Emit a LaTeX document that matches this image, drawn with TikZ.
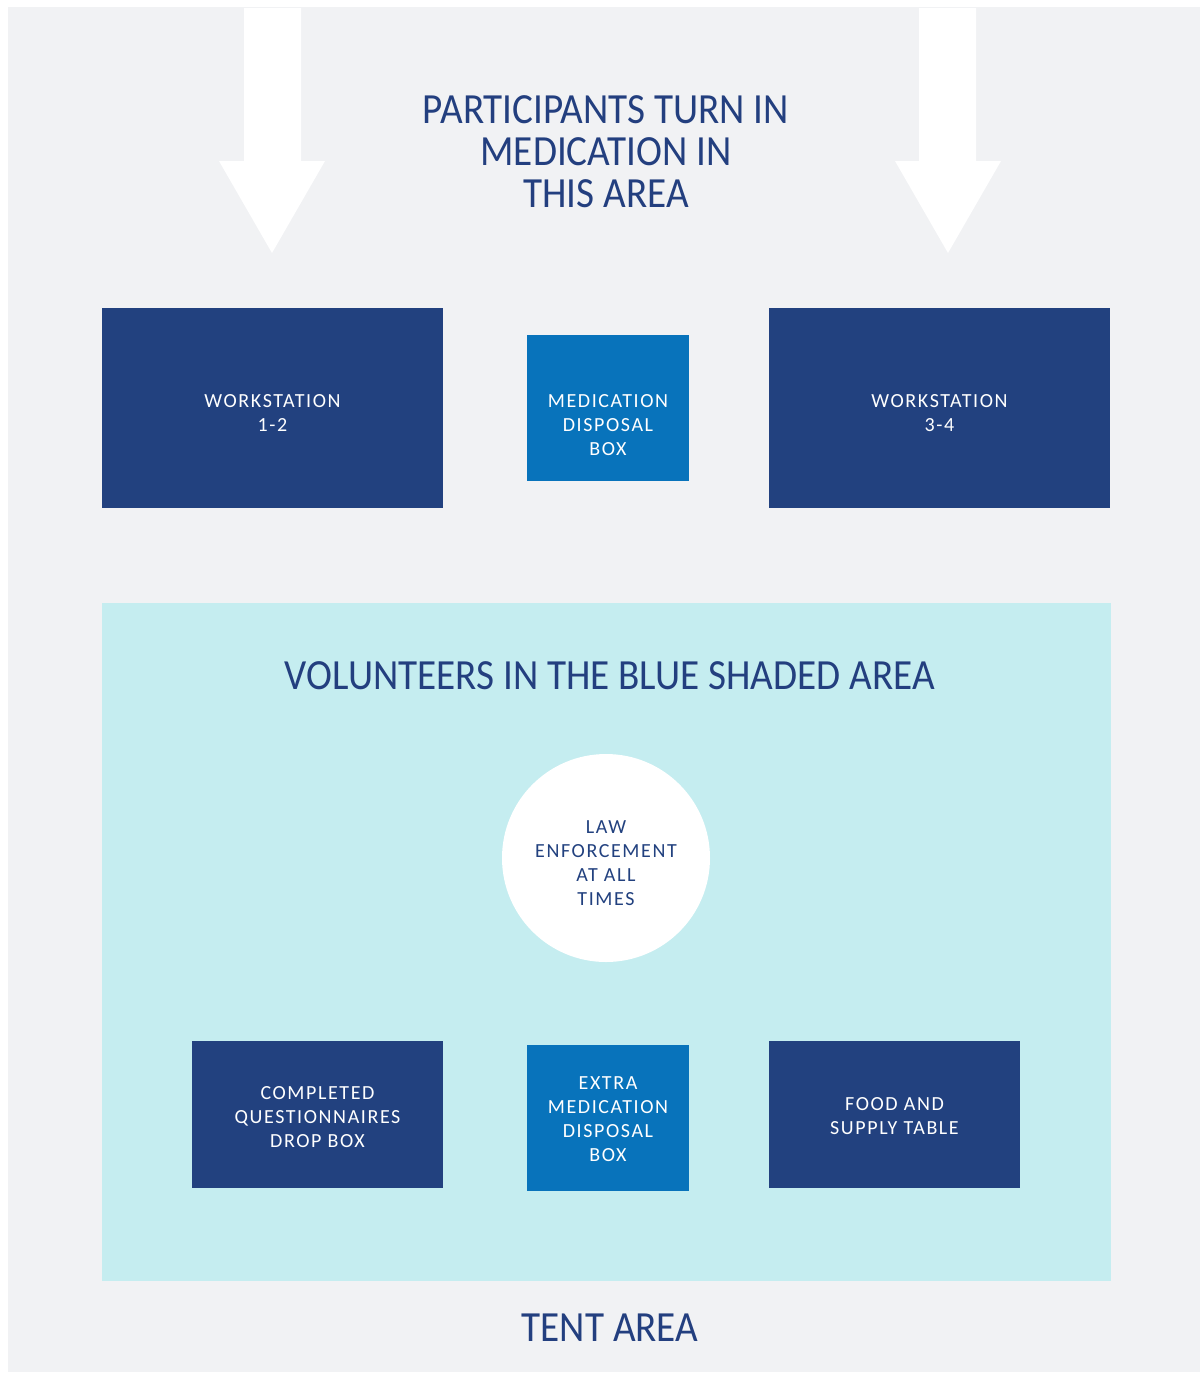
\documentclass[tikz,border=0pt]{standalone}
\usepackage{fontspec}
\setmainfont{Carlito}
\newfontfamily\boxfont[LetterSpace=8]{Carlito}
\newfontfamily\titlefont[FakeStretch=0.91]{Carlito}
\definecolor{bggray}{HTML}{F1F2F4}
\definecolor{navy}{HTML}{22417F}
\definecolor{midblue}{HTML}{0873BB}
\definecolor{lightcyan}{HTML}{C5EDF0}
\definecolor{titlecol}{HTML}{233F7F}
\begin{document}
\begin{tikzpicture}[x=1pt,y=-1pt,
  darkbox/.style={fill=navy,draw=none,inner sep=0pt},
  medbox/.style={fill=midblue,draw=none,inner sep=0pt},
  boxtext/.style={inner sep=0pt,text=white,align=center,font=\boxfont\fontsize{20}{24}\selectfont},
  circletext/.style={boxtext,text=navy},
  circlenode/.style={circle,fill=white,draw=none,inner sep=0pt,minimum size=208pt},
  titletext/.style={inner sep=0pt,text=titlecol,align=center,font=\titlefont\fontsize{43}{42}\selectfont},
  arrowshape/.style={fill=white,draw=none}]
\useasboundingbox (0,0) rectangle (1200,1374);
\fill[white] (0,0) rectangle (1200,1374);
\fill[bggray] (8,7) rectangle (1200,1372);
% arrows
\fill[arrowshape] (244,8) -- (301,8) -- (301,161) -- (325,161) -- (272,253) -- (219,161) -- (244,161) -- cycle;
\fill[arrowshape] (919,8) -- (976,8) -- (976,161) -- (1001,161) -- (948,253) -- (895,161) -- (919,161) -- cycle;
% header
\node[titletext] (header) at (606,152) {PARTICIPANTS TURN IN\\MEDICATION IN\\THIS AREA};
% top row
\node[darkbox,minimum width=341pt,minimum height=200pt] (ws12) at (272.5,408) {};
\node[boxtext] (ws12t) at (272.5,413) {WORKSTATION\\1-2};
\node[medbox,minimum width=162pt,minimum height=146pt] (medbox) at (608,408) {};
\node[boxtext] (medboxt) at (608,425) {MEDICATION\\DISPOSAL\\BOX};
\node[darkbox,minimum width=341pt,minimum height=200pt] (ws34) at (939.5,408) {};
\node[boxtext] (ws34t) at (939.5,413) {WORKSTATION\\3-4};
% volunteer area
\fill[lightcyan] (102,603) rectangle (1111,1281);
\node[titletext] (vol) at (610,676) {VOLUNTEERS IN THE BLUE SHADED AREA};
\node[circlenode] (law) at (606,858) {};
\node[circletext] (lawt) at (606,863) {LAW\\ENFORCEMENT\\AT ALL\\TIMES};
\node[darkbox,minimum width=251pt,minimum height=147pt] (cq) at (317.5,1114.5) {};
\node[boxtext] (cqt) at (317.5,1117.5) {COMPLETED\\QUESTIONNAIRES\\DROP BOX};
\node[medbox,minimum width=162pt,minimum height=146pt] (extra) at (608,1118) {};
\node[boxtext] (extrat) at (608,1119) {EXTRA\\MEDICATION\\DISPOSAL\\BOX};
\node[darkbox,minimum width=251pt,minimum height=147pt] (food) at (894.5,1114.5) {};
\node[boxtext] (foodt) at (894.5,1116.5) {FOOD AND\\SUPPLY TABLE};
\node[titletext] (tent) at (610,1328) {TENT AREA};
\end{tikzpicture}
\end{document}
